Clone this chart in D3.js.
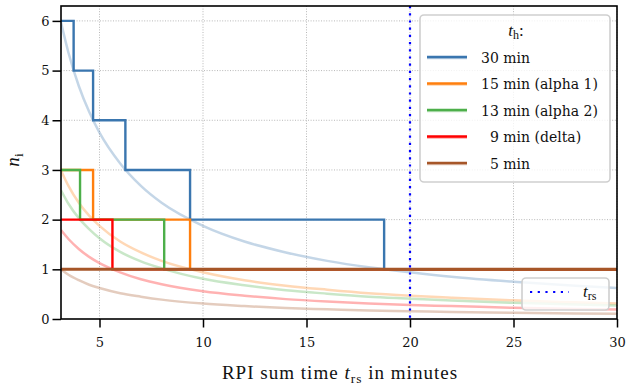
<!DOCTYPE html>
<html>
<head>
<meta charset="utf-8">
<script src="https://cdn.jsdelivr.net/npm/d3@7/dist/d3.min.js"></script>
<style>
  html, body { margin: 0; padding: 0; background: #fff; }
  svg { display: block; }
</style>
</head>
<body>
<svg id="chart" width="626" height="390"></svg>
<script>
// ---------- data ----------
const seriesNames = ["30 min", "15 min (alpha 1)", "13 min (alpha 2)", "\u20079 min (delta)", "\u20075 min"];
const seriesColors = ["#3a76af", "#ff7f0e", "#4daf4a", "#ff0000", "#a65628"];

// step functions: x breakpoints (minutes) and n_i value after each breakpoint
const stepX30 = [3.14, 3.75, 4.69, 6.25, 9.375, 18.75, 30];
const stepN30 = [6, 5, 4, 3, 2, 1, 1];
const stepX15 = [3.14, 4.69, 9.375, 30];
const stepN15 = [3, 2, 1, 1];
const stepX13 = [3.14, 4.06, 8.125, 30];
const stepN13 = [3, 2, 1, 1];
const stepX9 = [3.14, 5.625, 30];
const stepN9 = [2, 1, 1];
const stepX5 = [3.14, 30];
const stepN5 = [1, 1];

// faint continuous curves
const curveX = [3.14, 3.5, 4, 4.5, 5, 6, 7, 8, 10, 12, 14, 16, 18, 20, 22, 25, 28, 30];
const curve30 = [5.97, 5.36, 4.69, 4.17, 3.75, 3.13, 2.68, 2.34, 1.875, 1.56, 1.34, 1.17, 1.04, 0.94, 0.85, 0.75, 0.67, 0.625];
const curve15 = [2.99, 2.68, 2.34, 2.08, 1.875, 1.56, 1.34, 1.17, 0.94, 0.78, 0.67, 0.59, 0.52, 0.47, 0.43, 0.375, 0.335, 0.31];
const curve13 = [2.59, 2.32, 2.03, 1.81, 1.625, 1.35, 1.16, 1.02, 0.81, 0.68, 0.58, 0.51, 0.45, 0.41, 0.37, 0.325, 0.29, 0.27];
const curve9  = [1.79, 1.61, 1.41, 1.25, 1.125, 0.94, 0.80, 0.70, 0.56, 0.47, 0.40, 0.35, 0.31, 0.28, 0.26, 0.225, 0.20, 0.19];
const curve5  = [0.995, 0.89, 0.78, 0.69, 0.625, 0.52, 0.45, 0.39, 0.31, 0.26, 0.22, 0.195, 0.17, 0.156, 0.14, 0.125, 0.11, 0.104];

const trs = 20;
const xTicks = [5, 10, 15, 20, 25, 30];
const yTicks = [0, 1, 2, 3, 4, 5, 6];
const xDomain = [3.14, 30];
const yDomain = [0, 6.3];

// ---------- layout ----------
const FONT = "Liberation Serif, serif";
const FONT2 = "DejaVu Serif";
const svg = d3.select("#chart");
const L = 61, R = 617, T = 6, B = 319;
const x = d3.scaleLinear().domain(xDomain).range([L, R]);
const y = d3.scaleLinear().domain(yDomain).range([B, T]);

const steps = [[stepX30, stepN30], [stepX15, stepN15], [stepX13, stepN13], [stepX9, stepN9], [stepX5, stepN5]];
const curves = [curve30, curve15, curve13, curve9, curve5];

const defs = svg.append("defs");
defs.append("clipPath").attr("id", "clip").append("rect")
  .attr("x", L).attr("y", T).attr("width", R - L).attr("height", B - T);

// grid
const grid = svg.append("g");
grid.selectAll("line.gx").data(xTicks).join("line")
  .attr("x1", d => x(d)).attr("x2", d => x(d)).attr("y1", T).attr("y2", B)
  .attr("stroke", "#b0b0b0").attr("stroke-width", 0.9).attr("stroke-dasharray", "1,1.6");
grid.selectAll("line.gy").data(yTicks.filter(d => d > 0)).join("line")
  .attr("x1", L).attr("x2", R).attr("y1", d => y(d)).attr("y2", d => y(d))
  .attr("stroke", "#b0b0b0").attr("stroke-width", 0.9).attr("stroke-dasharray", "1,1.6");

const plot = svg.append("g").attr("clip-path", "url(#clip)");

// faint curves
const lineC = d3.line().x(d => x(d[0])).y(d => y(d[1])).curve(d3.curveMonotoneX);
curves.forEach((c, i) => {
  plot.append("path")
    .attr("d", lineC(curveX.map((xv, j) => [xv, c[j]])))
    .attr("fill", "none").attr("stroke", seriesColors[i])
    .attr("stroke-width", 2.5).attr("stroke-opacity", 0.3);
});

// step lines
const lineS = d3.line().x(d => x(d[0])).y(d => y(d[1])).curve(d3.curveStepAfter);
steps.forEach((s, i) => {
  plot.append("path")
    .attr("d", lineS(s[0].map((xv, j) => [xv, s[1][j]])))
    .attr("fill", "none").attr("stroke", seriesColors[i])
    .attr("stroke-width", i === 4 ? 3 : 2.4);
});

// t_rs vertical line
svg.append("line")
  .attr("x1", x(trs)).attr("x2", x(trs)).attr("y1", T).attr("y2", B)
  .attr("stroke", "#0000ff").attr("stroke-width", 2.2).attr("stroke-dasharray", "2.2,5");

// spines
svg.append("rect").attr("x", L).attr("y", T).attr("width", R - L).attr("height", B - T)
  .attr("fill", "none").attr("stroke", "#000").attr("stroke-width", 1.6);

// axes
const xAxis = svg.append("g").attr("transform", `translate(0,${B})`)
  .call(d3.axisBottom(x).tickValues(xTicks).tickFormat(d3.format("d")).tickSize(8.5).tickSizeOuter(0).tickPadding(10));
const yAxis = svg.append("g").attr("transform", `translate(${L},0)`)
  .call(d3.axisLeft(y).tickValues(yTicks).tickFormat(d3.format("d")).tickSize(8.5).tickSizeOuter(0).tickPadding(3));
[xAxis, yAxis].forEach(a => {
  a.attr("font-family", FONT2).attr("font-size", 13);
  a.select(".domain").remove();
  a.selectAll(".tick line").attr("stroke", "#000").attr("stroke-width", 1.5);
  a.selectAll(".tick text").attr("fill", "#111").attr("font-family", FONT2).attr("font-size", 13);
});

// x label (17px font scaled up to the reference size)
const xl = svg.append("text").attr("transform", `translate(${(L + R) / 2 + 1},379) scale(1.12)`)
  .attr("text-anchor", "middle").attr("font-family", FONT).attr("font-size", 17)
  .attr("letter-spacing", 0.9).attr("fill", "#111");
xl.append("tspan").text("RPI sum time ");
xl.append("tspan").attr("font-style", "italic").text("t");
xl.append("tspan").attr("dy", 3.5).attr("font-size", 12).text("rs");
xl.append("tspan").attr("dy", -3.5).text(" in minutes");

// y label
const yl = svg.append("text").attr("transform", "translate(19,160) rotate(-90) scale(1.12)")
  .attr("text-anchor", "middle").attr("font-family", FONT).attr("font-size", 17).attr("fill", "#111");
yl.append("tspan").attr("font-style", "italic").text("n");
yl.append("tspan").attr("dy", 3.5).attr("font-size", 12).text("i");

// legend 1
const lg = svg.append("g");
lg.append("rect").attr("x", 420).attr("y", 15).attr("width", 190).attr("height", 167)
  .attr("rx", 4).attr("fill", "#fff").attr("fill-opacity", 0.8)
  .attr("stroke", "#cfcfcf").attr("stroke-width", 1.6);
const lt = lg.append("text").attr("x", 516).attr("y", 36).attr("text-anchor", "middle")
  .attr("font-family", FONT).attr("font-size", 17).attr("fill", "#111");
lt.append("tspan").attr("font-style", "italic").text("t");
lt.append("tspan").attr("dy", 3).attr("font-size", 12).text("h");
lt.append("tspan").attr("dy", -3).text(":");
seriesNames.forEach((name, i) => {
  const yy = 57 + i * 26.5;
  lg.append("line").attr("x1", 427).attr("x2", 467).attr("y1", yy + 1).attr("y2", yy + 1)
    .attr("stroke", seriesColors[i]).attr("stroke-width", 2.4).attr("stroke-opacity", 0.35);
  lg.append("line").attr("x1", 427).attr("x2", 467).attr("y1", yy).attr("y2", yy)
    .attr("stroke", seriesColors[i]).attr("stroke-width", 2.4);
  lg.append("text").attr("x", 481).attr("y", yy + 5.5).attr("font-family", FONT2).attr("font-size", 14)
    .attr("fill", "#111").text(name);
});

// legend 2
const lg2 = svg.append("g");
lg2.append("rect").attr("x", 522).attr("y", 278).attr("width", 87).attr("height", 32)
  .attr("rx", 4).attr("fill", "#fff").attr("fill-opacity", 0.8)
  .attr("stroke", "#cfcfcf").attr("stroke-width", 1.6);
lg2.append("line").attr("x1", 530).attr("x2", 569).attr("y1", 292).attr("y2", 292)
  .attr("stroke", "#0000ff").attr("stroke-width", 2.2).attr("stroke-dasharray", "2.2,5.5");
const t2 = lg2.append("text").attr("x", 583).attr("y", 297).attr("font-family", FONT)
  .attr("font-size", 17).attr("fill", "#111");
t2.append("tspan").attr("font-style", "italic").text("t");
t2.append("tspan").attr("dy", 3).attr("font-size", 12).text("rs");
</script>
</body>
</html>
